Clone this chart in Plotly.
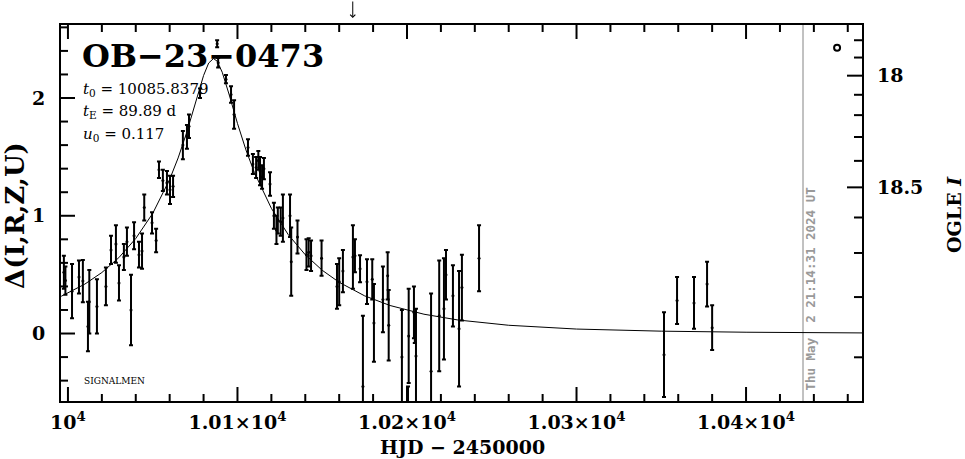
import numpy as np
import plotly.graph_objects as go

# ---------------- data ----------------
EVENT = "OB−23−0473"
T0_TEXT = "10085.8379"
TE_TEXT = "89.89"
U0_TEXT = "0.117"
NOW_T = 10433.6
NOW_TEXT = "Thu May  2 21:14:31 2024 UT"
ARROW_T = 10168.0

X_RANGE = [9995.9, 10468.4]
Y_RANGE = [-0.573, 2.62]

X_MAJOR = [10000, 10100, 10200, 10300, 10400]
X_LABELS = ["10<sup>4</sup>", "1.01×10<sup>4</sup>", "1.02×10<sup>4</sup>",
            "1.03×10<sup>4</sup>", "1.04×10<sup>4</sup>"]
X_MINOR_STEP = 20
Y_MAJOR = [0, 1, 2]
Y_LABELS = ["0", "1", "2"]
Y_MINOR_STEP = 0.2

# OGLE I scale (right axis), with blending
I_BASE = 18.865
F_SOURCE = 0.187
I_MAJOR = [18.0, 18.5]
I_LABELS = ["18", "18.5"]
I_MINOR = [17.8, 17.9, 18.1, 18.2, 18.3, 18.4, 18.6, 18.7, 18.8, 18.9]

obs_t = [9997.6, 9998.5, 10002.4, 10006.5, 10008.8, 10011.8, 10012.6, 10017.1,
         10022.4, 10025.4, 10028.3, 10030.1, 10033.0, 10034.8, 10037.2, 10039.0,
         10041.9, 10043.7, 10045.0, 10049.6, 10052.0, 10053.7, 10056.0, 10058.4,
         10060.2, 10062.0, 10067.8, 10070.2, 10071.4, 10077.9, 10088.0, 10088.6,
         10093.2, 10096.2, 10098.0, 10106.2, 10109.1, 10111.0, 10112.3, 10113.3,
         10114.5, 10115.6, 10119.2, 10121.5, 10123.0, 10123.8, 10125.5, 10126.8,
         10131.0, 10131.7, 10135.4, 10140.7, 10142.0, 10143.4, 10149.6, 10158.7,
         10160.0, 10162.2, 10168.1, 10169.3, 10172.3, 10174.0, 10176.4, 10179.5,
         10180.5, 10185.8, 10188.6, 10189.2, 10197.0, 10200.6, 10201.0, 10204.1,
         10204.6, 10205.3, 10214.2, 10219.0, 10221.8, 10223.0, 10227.1, 10230.7,
         10232.4, 10242.5, 10351.6, 10359.3, 10369.3, 10377.0, 10380.0]
obs_d = [0.52, 0.45, 0.36, 0.48, 0.445, 0.06, 0.27, 0.23,
         0.40, 0.71, 0.76, 0.43, 0.65, 0.78, 0.20, 0.83,
         0.67, 0.70, 1.07, 0.94, 0.79, 1.39, 1.30, 1.28,
         1.22, 1.25, 1.60, 1.67, 1.76, 2.04, 2.46, 2.30,
         2.16, 2.03, 1.86, 1.58, 1.44, 1.41, 1.47, 1.38,
         1.33, 1.40, 1.27, 1.00, 0.88, 0.96, 0.95, 0.98,
         1.00, 0.61, 0.82, 0.67, 0.69, 0.66, 0.64, 0.40,
         0.44, 0.53, 0.65, 0.66, 0.55, -0.45, 0.44, 0.46,
         0.09, 0.29, 0.49, 0.07, -0.20, -0.85, -0.02, 0.18,
         0.05, -0.19, -0.32, 0.15, 0.21, 0.50, 0.32, 0.04,
         0.39, 0.64, -0.18, 0.28, 0.26, 0.42, 0.05]
obs_e = [0.14, 0.12, 0.23, 0.14, 0.18, 0.21, 0.27, 0.23,
         0.16, 0.12, 0.16, 0.15, 0.11, 0.12, 0.30, 0.115,
         0.11, 0.15, 0.11, 0.09, 0.10, 0.07, 0.09, 0.10,
         0.12, 0.09, 0.12, 0.10, 0.10, 0.04, 0.03, 0.04,
         0.035, 0.07, 0.12, 0.07, 0.085, 0.09, 0.08, 0.12,
         0.10, 0.09, 0.10, 0.11, 0.12, 0.11, 0.12, 0.20,
         0.18, 0.29, 0.14, 0.13, 0.12, 0.13, 0.15, 0.19,
         0.20, 0.18, 0.27, 0.14, 0.115, 0.60, 0.19, 0.17,
         0.33, 0.28, 0.20, 0.30, 0.40, 0.40, 0.40, 0.22,
         0.13, 0.40, 0.66, 0.47, 0.43, 0.21, 0.26, 0.49,
         0.28, 0.28, 0.36, 0.20, 0.22, 0.19, 0.19]

model_t = [9996, 10010, 10020, 10030, 10040, 10050, 10060, 10065, 10070, 10075,
           10080, 10083, 10085.84, 10088, 10091, 10095, 10100, 10105, 10110, 10120,
           10130, 10140, 10150, 10160, 10175, 10190, 10210, 10230, 10260, 10300,
           10350, 10400, 10470]
model_d = [0.316, 0.420, 0.518, 0.644, 0.807, 1.020, 1.309, 1.491, 1.705, 1.948,
           2.191, 2.297, 2.335, 2.313, 2.219, 2.033, 1.784, 1.559, 1.366, 1.063,
           0.839, 0.669, 0.537, 0.435, 0.320, 0.238, 0.164, 0.115, 0.070, 0.038,
           0.020, 0.011, 0.005]

OGLE_SYMBOL_T = 10453.7
OGLE_SYMBOL_D = 2.426


def mag_to_delta(mag):
    flux = 10 ** (-0.4 * (mag - I_BASE))
    return 2.5 * np.log10((flux - (1 - F_SOURCE)) / F_SOURCE)


SERIF = "DejaVu Serif"
W, H = 965, 459
ML, MR, MT, MB = 61, 103, 25, 58
PW, PH = W - ML - MR, H - MT - MB
DX = (X_RANGE[1] - X_RANGE[0]) / PW   # data units per pixel
DY = (Y_RANGE[1] - Y_RANGE[0]) / PH


def px_x(px):
    return (px - ML) / PW


def px_y(py):
    return (H - MB - py) / PH


fig = go.Figure()

fig.add_trace(go.Scatter(
    x=model_t, y=model_d, mode="lines",
    line=dict(color="black", width=1), hoverinfo="skip", showlegend=False))

fig.add_trace(go.Scatter(
    x=obs_t, y=obs_d, mode="markers",
    marker=dict(color="black", size=3),
    error_y=dict(type="data", array=obs_e, visible=True,
                 color="black", thickness=2, width=2),
    hoverinfo="skip", showlegend=False))

fig.add_trace(go.Scatter(
    x=[OGLE_SYMBOL_T], y=[OGLE_SYMBOL_D], mode="markers", yaxis="y2",
    marker=dict(symbol="circle-open", size=6, color="black",
                line=dict(width=2, color="black")),
    hoverinfo="skip", showlegend=False))

# --- tick marks drawn inside the frame (PGPLOT style) ---
x_minor = [v for v in range(10000 - X_MINOR_STEP, 10480, X_MINOR_STEP)
           if X_RANGE[0] < v < X_RANGE[1] and v not in X_MAJOR]
y_minor = [round(-0.4 + Y_MINOR_STEP * k, 2) for k in range(16)]
y_minor = [v for v in y_minor if Y_RANGE[0] < v < Y_RANGE[1] and v not in Y_MAJOR]

tx, ty = [], []
for v in X_MAJOR + x_minor:
    ln = (14 if v in X_MAJOR else 7) * DY
    tx += [v, v, None, v, v, None]
    ty += [Y_RANGE[0], Y_RANGE[0] + ln, None, Y_RANGE[1] - ln, Y_RANGE[1], None]
for v in Y_MAJOR + y_minor:
    ln = (14 if v in Y_MAJOR else 7) * DX
    tx += [X_RANGE[0], X_RANGE[0] + ln, None]
    ty += [v, v, None]
for m in I_MAJOR + I_MINOR:
    ln = (15 if m in I_MAJOR else 8) * DX
    d = mag_to_delta(m)
    tx += [X_RANGE[1] - ln, X_RANGE[1], None]
    ty += [d, d, None]
fig.add_trace(go.Scatter(x=tx, y=ty, mode="lines", line=dict(color="black", width=2),
                         connectgaps=False, hoverinfo="skip", showlegend=False))

tickfont = dict(family=SERIF, size=19, color="black", weight="bold")

fig.update_layout(
    width=W, height=H, autosize=False,
    margin=dict(l=ML, r=MR, t=MT, b=MB, pad=0),
    paper_bgcolor="white", plot_bgcolor="white",
    xaxis=dict(
        range=X_RANGE, showgrid=False, zeroline=False,
        showline=True, linecolor="black", linewidth=2, mirror=True,
        ticks="", tickmode="array", tickvals=X_MAJOR, ticktext=X_LABELS,
        tickfont=tickfont, ticklabelstandoff=3,
    ),
    yaxis=dict(
        range=Y_RANGE, showgrid=False, zeroline=False,
        showline=True, linecolor="black", linewidth=2, mirror=True,
        ticks="", tickmode="array", tickvals=Y_MAJOR, ticktext=Y_LABELS,
        tickfont=tickfont, ticklabelstandoff=10,
    ),
    yaxis2=dict(
        range=Y_RANGE, overlaying="y", side="right", anchor="x",
        showgrid=False, zeroline=False, showline=False, ticks="",
        tickmode="array", tickvals=[mag_to_delta(m) for m in I_MAJOR],
        ticktext=I_LABELS, tickfont=tickfont, ticklabelstandoff=14,
    ),
    showlegend=False,
)

fig.add_shape(type="line", xref="x", yref="paper", x0=NOW_T, x1=NOW_T, y0=0, y1=1,
              line=dict(color="#999999", width=1.2), layer="below")

ann = []
ann.append(dict(text=EVENT, xref="paper", yref="paper", x=px_x(80), y=px_y(56),
                xanchor="left", yanchor="middle", showarrow=False,
                font=dict(family=SERIF, size=32, color="black", weight="bold")))
pfont = dict(family=SERIF, size=15, color="black")
for i, (sym, sub, val) in enumerate([("t", "0", T0_TEXT), ("t", "E", TE_TEXT + " d"),
                                     ("u", "0", U0_TEXT)]):
    ann.append(dict(text=f"<i>{sym}</i><sub>{sub}</sub> = {val}", xref="paper", yref="paper",
                    x=px_x(81), y=px_y(89 + 22.5 * i), xanchor="left", yanchor="middle",
                    showarrow=False, font=pfont))
ann.append(dict(text="SIGNALMEN", xref="paper", yref="paper", x=px_x(82), y=px_y(381),
                xanchor="left", yanchor="middle", showarrow=False,
                font=dict(family=SERIF, size=9, color="black")))
ann.append(dict(text="Δ(I,R,Z,U)", xref="paper", yref="paper", x=px_x(15), y=px_y(216),
                xanchor="center", yanchor="middle", textangle=-90, showarrow=False,
                font=dict(family=SERIF, size=26, color="black", weight="bold")))
ann.append(dict(text="HJD − 2450000", xref="paper", yref="paper", x=px_x(462), y=px_y(447),
                xanchor="center", yanchor="middle", showarrow=False,
                font=dict(family=SERIF, size=19, color="black", weight="bold")))
ann.append(dict(text="OGLE <i>I</i>", xref="paper", yref="paper", x=px_x(954), y=px_y(215),
                xanchor="center", yanchor="middle", textangle=-90, showarrow=False,
                font=dict(family=SERIF, size=19, color="black", weight="bold")))
ann.append(dict(text=NOW_TEXT, xref="x", yref="paper", x=NOW_T, xshift=7, y=px_y(393),
                xanchor="center", yanchor="bottom", textangle=-90, showarrow=False,
                font=dict(family="DejaVu Sans Mono", size=12.5, color="#999999",
                          weight="bold")))
ann.append(dict(text="", xref="x", yref="paper", x=ARROW_T, y=px_y(18),
                ax=0, ay=-18, showarrow=True, arrowhead=4, arrowsize=1,
                arrowwidth=1, arrowcolor="black"))
fig.update_layout(annotations=ann)

fig.write_html("out.html", config={"displayModeBar": False},
               post_script="document.body.style.margin='0px';"
                           "document.body.style.padding='0px';")
